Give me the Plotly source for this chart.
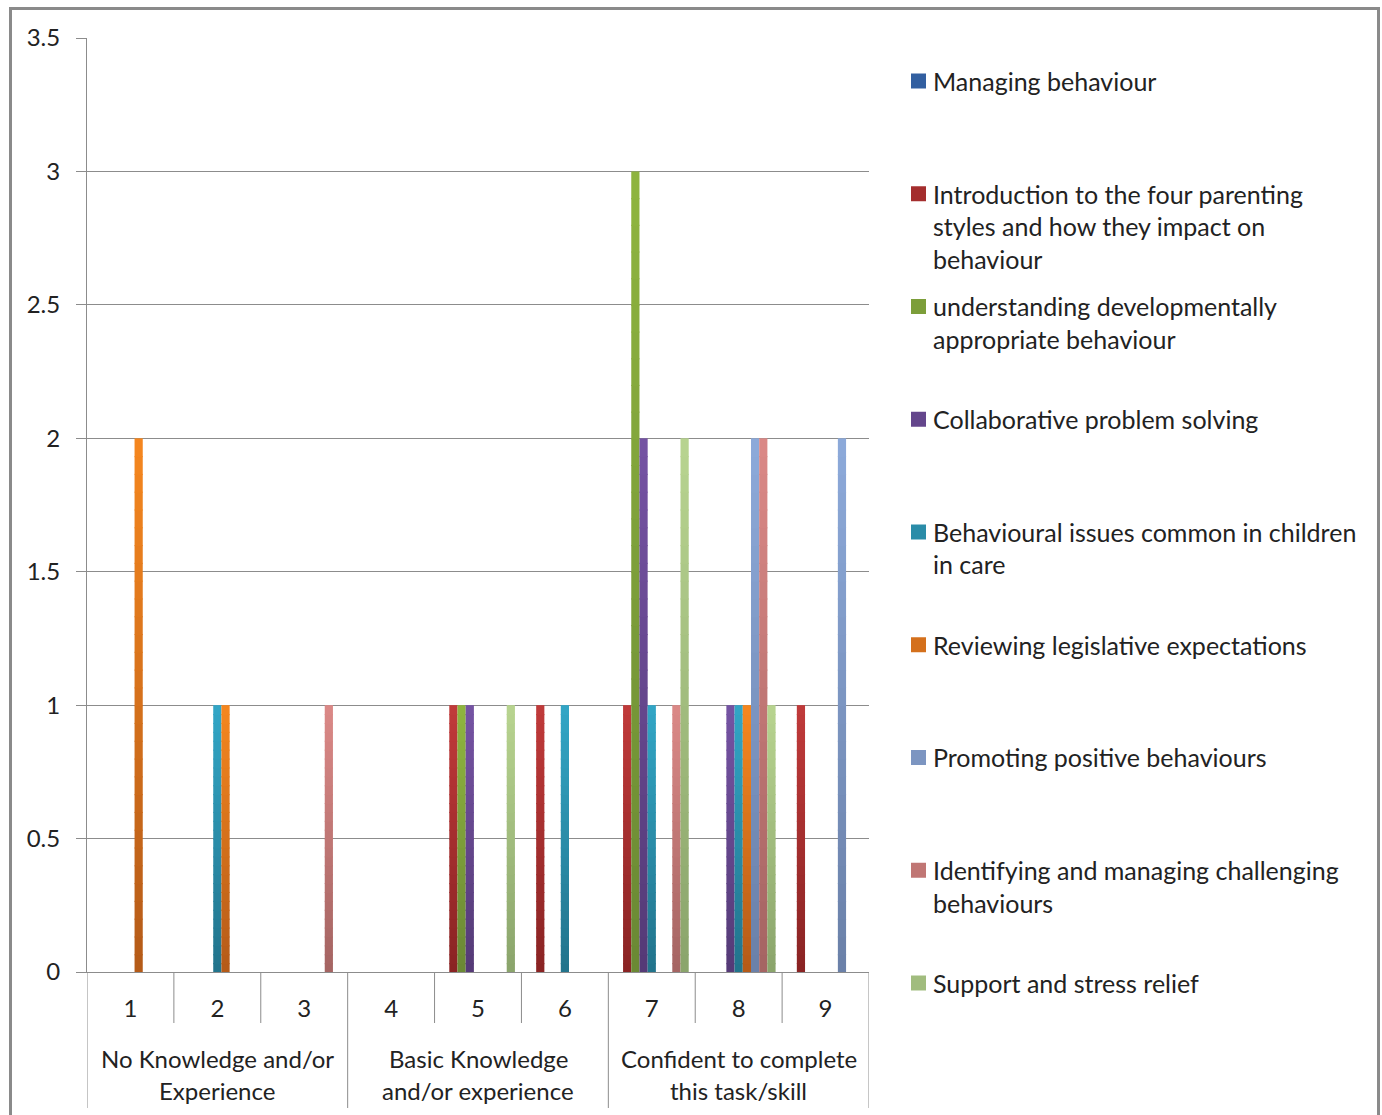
import plotly.graph_objects as go

# ---- data -------------------------------------------------------------
categories = ["1", "2", "3", "4", "5", "6", "7", "8", "9"]
group_labels = [
    ["No Knowledge and/or", "Experience"],
    ["Basic Knowledge", "and/or experience"],
    ["Confident to complete", "this task/skill"],
]
series_names = [
    "Managing behaviour",
    "Introduction to the four parenting styles and how they impact on behaviour",
    "understanding developmentally appropriate behaviour",
    "Collaborative problem solving",
    "Behavioural issues common in children in care",
    "Reviewing legislative expectations",
    "Promoting positive behaviours",
    "Identifying and managing challenging behaviours",
    "Support and stress relief",
]
managing = [0, 0, 0, 0, 0, 0, 0, 0, 0]
introduction = [0, 0, 0, 0, 1, 1, 1, 0, 1]
understanding = [0, 0, 0, 0, 1, 0, 3, 0, 0]
collaborative = [0, 0, 0, 0, 1, 0, 2, 1, 0]
behavioural = [0, 1, 0, 0, 0, 1, 1, 1, 0]
legislative = [2, 1, 0, 0, 0, 0, 0, 1, 0]
promoting = [0, 0, 0, 0, 0, 0, 0, 2, 2]
identifying = [0, 0, 1, 0, 0, 0, 1, 2, 0]
support = [0, 0, 0, 0, 1, 0, 2, 1, 0]
series_values = [managing, introduction, understanding, collaborative,
                 behavioural, legislative, promoting, identifying, support]

# legend text, wrapped the way it is laid out beside the plot
legend_lines = [
    ["Managing behaviour"],
    ["Introduction to the four parenting", "styles and how they impact on", "behaviour"],
    ["understanding developmentally", "appropriate behaviour"],
    ["Collaborative problem solving"],
    ["Behavioural issues common in children", "in care"],
    ["Reviewing legislative expectations"],
    ["Promoting positive behaviours"],
    ["Identifying and managing challenging", "behaviours"],
    ["Support and stress relief"],
]

# ---- styling ----------------------------------------------------------
top_colors = ["#3C6EB4", "#C03A3A", "#8FB53F", "#7553A3", "#32A6C6",
              "#F5871F", "#8DAADA", "#DB8987", "#B8D490"]
bottom_colors = ["#27508C", "#892323", "#6A8834", "#543A76", "#22738B",
                 "#B45A18", "#6A80A8", "#A46462", "#8AA46B"]
FONT = "Lato"
TEXT = "#222222"
GRID = "#8C8C8C"
AXIS_SIZE = 24
LEGEND_SIZE = 25
N_BANDS = 30
SEAM = 0.004          # small overlap between gradient bands (axis units)

W, H = 1382, 1115
PL, PR, PT, PB = 87, 869, 38, 972   # plot area in pixels


def px_x(px):
    return (px - PL) / (PR - PL)


def px_y(py):
    return (PB - py) / (PB - PT)


def hex_rgb(h):
    h = h.lstrip("#")
    return tuple(int(h[i:i + 2], 16) for i in (0, 2, 4))


def mix(c_top, c_bot, t):
    a, b = hex_rgb(c_top), hex_rgb(c_bot)
    return "rgb(%d,%d,%d)" % tuple(round(a[j] + (b[j] - a[j]) * t) for j in range(3))


fig = go.Figure()

# vertical gradient bars: each series is split into horizontal bands that
# share one offset group, drawn bottom (dark) to top (light)
for i, (name, vals) in enumerate(zip(series_names, series_values)):
    for k in range(N_BANDS):
        lo = [v * k / N_BANDS for v in vals]
        hi = [v * (k + 1) / N_BANDS for v in vals]
        base = [l - SEAM if (k > 0 and v > 0) else l for l, v in zip(lo, vals)]
        fig.add_trace(go.Bar(
            x=categories,
            y=[h - b for h, b in zip(hi, base)],
            base=base,
            name=name,
            offsetgroup=str(i),
            marker=dict(color=mix(top_colors[i], bottom_colors[i], 1 - (k + 0.5) / N_BANDS),
                        line=dict(width=0)),
            showlegend=False,
            hoverinfo="skip",
        ))

fig.update_layout(
    width=W, height=H,
    margin=dict(l=PL, r=W - PR, t=PT, b=H - PB),
    paper_bgcolor="white", plot_bgcolor="white",
    barmode="group", bargap=0.15, bargroupgap=0,
    font=dict(family=FONT, size=AXIS_SIZE, color=TEXT),
    showlegend=False,
)

fig.update_yaxes(
    range=[0, 3.5], tickvals=[0, 0.5, 1, 1.5, 2, 2.5, 3, 3.5],
    ticktext=["0", "0.5", "1", "1.5", "2", "2.5", "3", "3.5"],
    showgrid=True, gridcolor=GRID, gridwidth=1,
    showline=True, linecolor=GRID, linewidth=1,
    ticks="outside", ticklen=10, tickcolor=GRID, ticklabelstandoff=11,
    zeroline=False, tickfont=dict(size=AXIS_SIZE, color=TEXT),
)
fig.update_xaxes(
    type="category", categoryorder="array", categoryarray=categories,
    range=[-0.5, 8.5],
    showline=True, linecolor=GRID, linewidth=1,
    ticks="", ticklabelstandoff=15, showgrid=False,
    tickfont=dict(size=AXIS_SIZE, color=TEXT),
)

# category separators below the axis; group boundaries run deeper
for k in range(10):
    deep = k % 3 == 0
    fig.add_shape(type="line", xref="x", yref="paper",
                  x0=k - 0.5, x1=k - 0.5, y0=0, y1=px_y(1108 if deep else 1023),
                  line=dict(color=GRID, width=1))

# group labels under the category numbers
for g, lines in enumerate(group_labels):
    for j, line in enumerate(lines):
        fig.add_annotation(x=3 * g + 1, xref="x", y=px_y(1058 + 32 * j), yref="paper",
                           text=line, showarrow=False, xanchor="center", yanchor="middle",
                           font=dict(size=AXIS_SIZE, color=TEXT))

# legend drawn beside the plot, entries evenly spaced
for i, lines in enumerate(legend_lines):
    yc = 81 + i * 112.75
    fig.add_shape(type="rect", xref="paper", yref="paper",
                  x0=px_x(911), x1=px_x(926), y0=px_y(yc - 7.5), y1=px_y(yc + 7.5),
                  fillcolor=mix(top_colors[i], bottom_colors[i], 0.5), line=dict(width=0))
    for j, line in enumerate(lines):
        fig.add_annotation(x=px_x(931), xref="paper", y=px_y(yc + 32.5 * j), yref="paper",
                           text=line, showarrow=False, xanchor="left", yanchor="middle",
                           font=dict(size=LEGEND_SIZE, color=TEXT))

# chart frame
fig.add_shape(type="rect", xref="paper", yref="paper",
              x0=px_x(10.5), x1=px_x(1378.5), y0=px_y(1130), y1=px_y(8.5),
              line=dict(color="#8A8A8A", width=3), fillcolor="rgba(0,0,0,0)", layer="below")

fig.write_html("out.html")
